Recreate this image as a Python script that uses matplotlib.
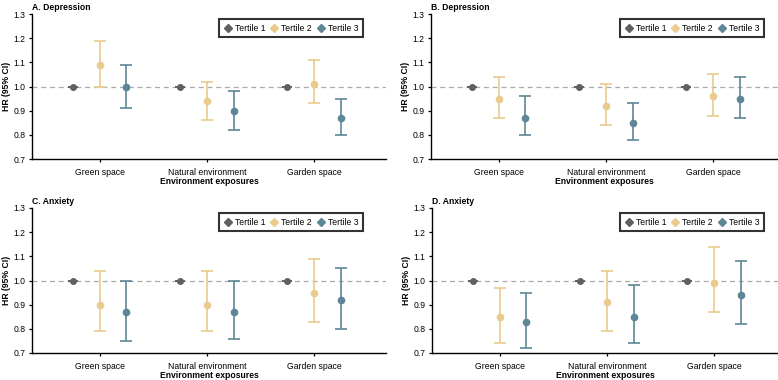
import matplotlib.pyplot as plt
import numpy as np
from matplotlib.lines import Line2D

plt.rcParams['font.family'] = ['Liberation Sans', 'DejaVu Sans']

categories = ['Green space', 'Natural environment', 'Garden space']
tertiles = ['Tertile 1', 'Tertile 2', 'Tertile 3']
titles = ['A. Depression', 'B. Depression', 'C. Anxiety', 'D. Anxiety']

# HR, lower, upper for tertile 2 and 3 (tertile 1 = reference 1.0)
a_t2 = [1.09, 0.94, 1.01]; a_t2_lo = [1.00, 0.86, 0.93]; a_t2_hi = [1.19, 1.02, 1.11]
a_t3 = [1.00, 0.90, 0.87]; a_t3_lo = [0.91, 0.82, 0.80]; a_t3_hi = [1.09, 0.98, 0.95]

b_t2 = [0.95, 0.92, 0.96]; b_t2_lo = [0.87, 0.84, 0.88]; b_t2_hi = [1.04, 1.01, 1.05]
b_t3 = [0.87, 0.85, 0.95]; b_t3_lo = [0.80, 0.78, 0.87]; b_t3_hi = [0.96, 0.93, 1.04]

c_t2 = [0.90, 0.90, 0.95]; c_t2_lo = [0.79, 0.79, 0.83]; c_t2_hi = [1.04, 1.04, 1.09]
c_t3 = [0.87, 0.87, 0.92]; c_t3_lo = [0.75, 0.76, 0.80]; c_t3_hi = [1.00, 1.00, 1.05]

d_t2 = [0.85, 0.91, 0.99]; d_t2_lo = [0.74, 0.79, 0.87]; d_t2_hi = [0.97, 1.04, 1.14]
d_t3 = [0.83, 0.85, 0.94]; d_t3_lo = [0.72, 0.74, 0.82]; d_t3_hi = [0.95, 0.98, 1.08]

t1 = [1.0, 1.0, 1.0]

colors = ['#606060', '#EACB8E', '#5E8696']

panels = [
    (a_t2, a_t2_lo, a_t2_hi, a_t3, a_t3_lo, a_t3_hi),
    (b_t2, b_t2_lo, b_t2_hi, b_t3, b_t3_lo, b_t3_hi),
    (c_t2, c_t2_lo, c_t2_hi, c_t3, c_t3_lo, c_t3_hi),
    (d_t2, d_t2_lo, d_t2_hi, d_t3, d_t3_lo, d_t3_hi),
]

W, H = 778, 380
fig = plt.figure(figsize=(W / 100, H / 100), dpi=100)

# axes boxes in pixels: left, top, right, bottom ; legend right edge / top in pixels
boxes = [(32, 14, 386, 159), (431, 14, 778, 159), (32, 208, 386, 353), (432, 208, 778, 353)]
leg_pos = [(363, 19), (764, 19), (363, 213), (764, 213)]

fs = 6.2
for i, (box, data) in enumerate(zip(boxes, panels)):
    l, t, r, b = box
    ax = fig.add_axes([l / W, 1 - b / H, (r - l) / W, (b - t) / H])
    x = np.arange(len(categories))
    off = 0.25
    t2, t2lo, t2hi, t3, t3lo, t3hi = [np.array(v) for v in data]

    ax.axhline(1.0, color='#aaaaaa', ls=(0, (4, 3)), lw=0.9, zorder=0)
    ax.errorbar(x - off, t1, yerr=[[0, 0, 0], [0, 0, 0]], fmt='o', color=colors[0],
                ms=4, capsize=3.3, elinewidth=1.2, capthick=1.2)
    ax.errorbar(x, t2, yerr=[t2 - t2lo, t2hi - t2], fmt='o', color=colors[1],
                ms=4.5, capsize=4, elinewidth=1.2, capthick=1.2)
    ax.errorbar(x + off, t3, yerr=[t3 - t3lo, t3hi - t3], fmt='o', color=colors[2],
                ms=4.5, capsize=4, elinewidth=1.2, capthick=1.2)

    ax.set_xlim(-0.63, -0.63 + (r - l) / 107.3)
    ax.set_ylim(0.7, 1.3)
    ax.set_yticks([0.7, 0.8, 0.9, 1.0, 1.1, 1.2, 1.3])
    ax.set_yticklabels(['0.7', '0.8', '0.9', '1.0', '1.1', '1.2', '1.3'])
    ax.set_xticks(x)
    ax.set_xticklabels(categories)
    ax.tick_params(labelsize=fs, length=2.5, width=0.9, pad=2)
    ax.tick_params(axis='x', pad=4)
    for s in ['top', 'right']:
        ax.spines[s].set_visible(False)
    for s in ['left', 'bottom']:
        ax.spines[s].set_linewidth(1.0)
    ax.set_ylabel('HR (95% CI)', fontsize=fs, fontweight='bold', labelpad=2)
    ax.set_xlabel('Environment exposures', fontsize=fs, fontweight='bold', labelpad=0)
    ax.set_title(titles[i], fontsize=fs, fontweight='bold', loc='left', pad=3, x=0.0)

    handles = [Line2D([], [], marker='D', ls='none', color=c, ms=4.3) for c in colors]
    lx, ly = leg_pos[i]
    leg = ax.legend(handles, tertiles, ncol=3, loc='upper right',
                    bbox_to_anchor=((lx - l) / (r - l), (b - ly) / (b - t)),
                    fontsize=fs, frameon=True, fancybox=False, handlelength=0.9,
                    handletextpad=0.35, columnspacing=0.6, borderpad=0.55, borderaxespad=0)
    leg.get_frame().set_edgecolor('black')
    leg.get_frame().set_linewidth(1.5)

fig.savefig('out.png', dpi=100)
